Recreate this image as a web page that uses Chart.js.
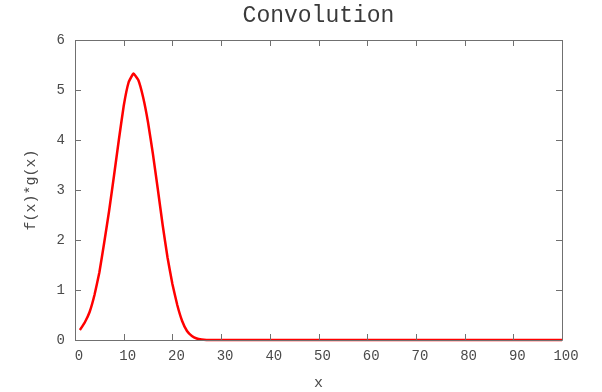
<!DOCTYPE html>
<html><head><meta charset="utf-8">
<script src="https://cdn.jsdelivr.net/npm/chart.js@4/dist/chart.umd.min.js"></script>
<style>html,body{margin:0;padding:0;background:#fff}#w{width:602px;height:392px}</style>
</head><body><div id="w"><canvas id="c" width="602" height="392"></canvas></div>
<script>
const titleText = "Convolution";
const xLabel = "x";
const yLabel = "f(x)*g(x)";
const xValues = [1,2,3,4,5,6,7,8,9,10,11,12,13,14,15,16,17,18,19,20,21,22,23,24,25,26,27,28,29,30,35,40,45,50,55,60,65,70,75,80,85,90,95,100];
const yValues = [0.2,0.35,0.56,0.9,1.35,1.95,2.58,3.28,4.0,4.68,5.15,5.33,5.2,4.85,4.35,3.72,3.02,2.3,1.65,1.12,0.7,0.38,0.18,0.08,0.03,0.01,0,0,0,0,0,0,0,0,0,0,0,0,0,0,0,0,0,0];
const xTicks = [0,10,20,30,40,50,60,70,80,90,100];
const yTicks = [0,1,2,3,4,5,6];

const FONT = "'Liberation Mono', 'DejaVu Sans Mono', monospace";
const TXT = "#4a4a4a";
const FRAME = "#707070";

const framePlugin = {
  id: 'frame',
  afterDraw(chart) {
    const {ctx, chartArea: a, scales: {x, y}} = chart;
    ctx.save();
    ctx.strokeStyle = FRAME;
    ctx.lineWidth = 1;
    ctx.beginPath();
    ctx.rect(Math.round(a.left) + 0.5, Math.round(a.top) + 0.5, Math.round(a.right - a.left), Math.round(a.bottom - a.top));
    ctx.stroke();
    ctx.beginPath();
    const L = 6;
    xTicks.forEach(v => {
      const px = Math.round(x.getPixelForValue(v)) + 0.5;
      ctx.moveTo(px, a.bottom); ctx.lineTo(px, a.bottom - L);
      ctx.moveTo(px, a.top); ctx.lineTo(px, a.top + L);
    });
    yTicks.forEach(v => {
      const py = Math.round(y.getPixelForValue(v)) + 0.5;
      ctx.moveTo(a.left, py); ctx.lineTo(a.left + L, py);
      ctx.moveTo(a.right, py); ctx.lineTo(a.right - L, py);
    });
    ctx.stroke();
    ctx.fillStyle = "#3a3a3a";
    ctx.font = "23px " + FONT;
    ctx.textAlign = "center";
    ctx.textBaseline = "middle";
    ctx.fillText(titleText, (a.left + a.right) / 2, 16);
    ctx.restore();
  }
};

new Chart(document.getElementById('c'), {
  type: 'line',
  data: {
    datasets: [{
      data: xValues.map((v, i) => ({x: v, y: yValues[i]})),
      borderColor: '#ff0000',
      borderWidth: 2.5,
      pointRadius: 0,
      tension: 0.1,
      fill: false,
      clip: false
    }]
  },
  options: {
    responsive: false,
    animation: false,
    devicePixelRatio: 1,
    layout: {padding: {top: 40, right: 40, left: 22, bottom: 0}},
    plugins: {legend: {display: false}, tooltip: {enabled: false}, title: {display: false}},
    scales: {
      x: {
        type: 'linear', min: 0, max: 100,
        afterBuildTicks: s => { s.ticks = xTicks.map(v => ({value: v})); },
        grid: {display: false, drawTicks: false},
        border: {display: false},
        ticks: {color: TXT, font: {family: FONT, size: 14}, padding: 8, labelOffset: 4, maxRotation: 0, autoSkip: false},
        title: {display: true, text: xLabel, color: TXT, font: {family: FONT, size: 15}, padding: {top: 4, bottom: 0}},
        afterFit: s => { s.height = 52; }
      },
      y: {
        type: 'linear', min: 0, max: 6,
        afterBuildTicks: s => { s.ticks = yTicks.map(v => ({value: v})); },
        grid: {display: false, drawTicks: false},
        border: {display: false},
        ticks: {color: TXT, font: {family: FONT, size: 14}, padding: 10},
        title: {display: true, text: yLabel, color: TXT, font: {family: FONT, size: 15}, padding: {top: 0, bottom: 0}},
        afterFit: s => { s.width = 53; }
      }
    }
  },
  plugins: [framePlugin]
});
</script></body></html>
